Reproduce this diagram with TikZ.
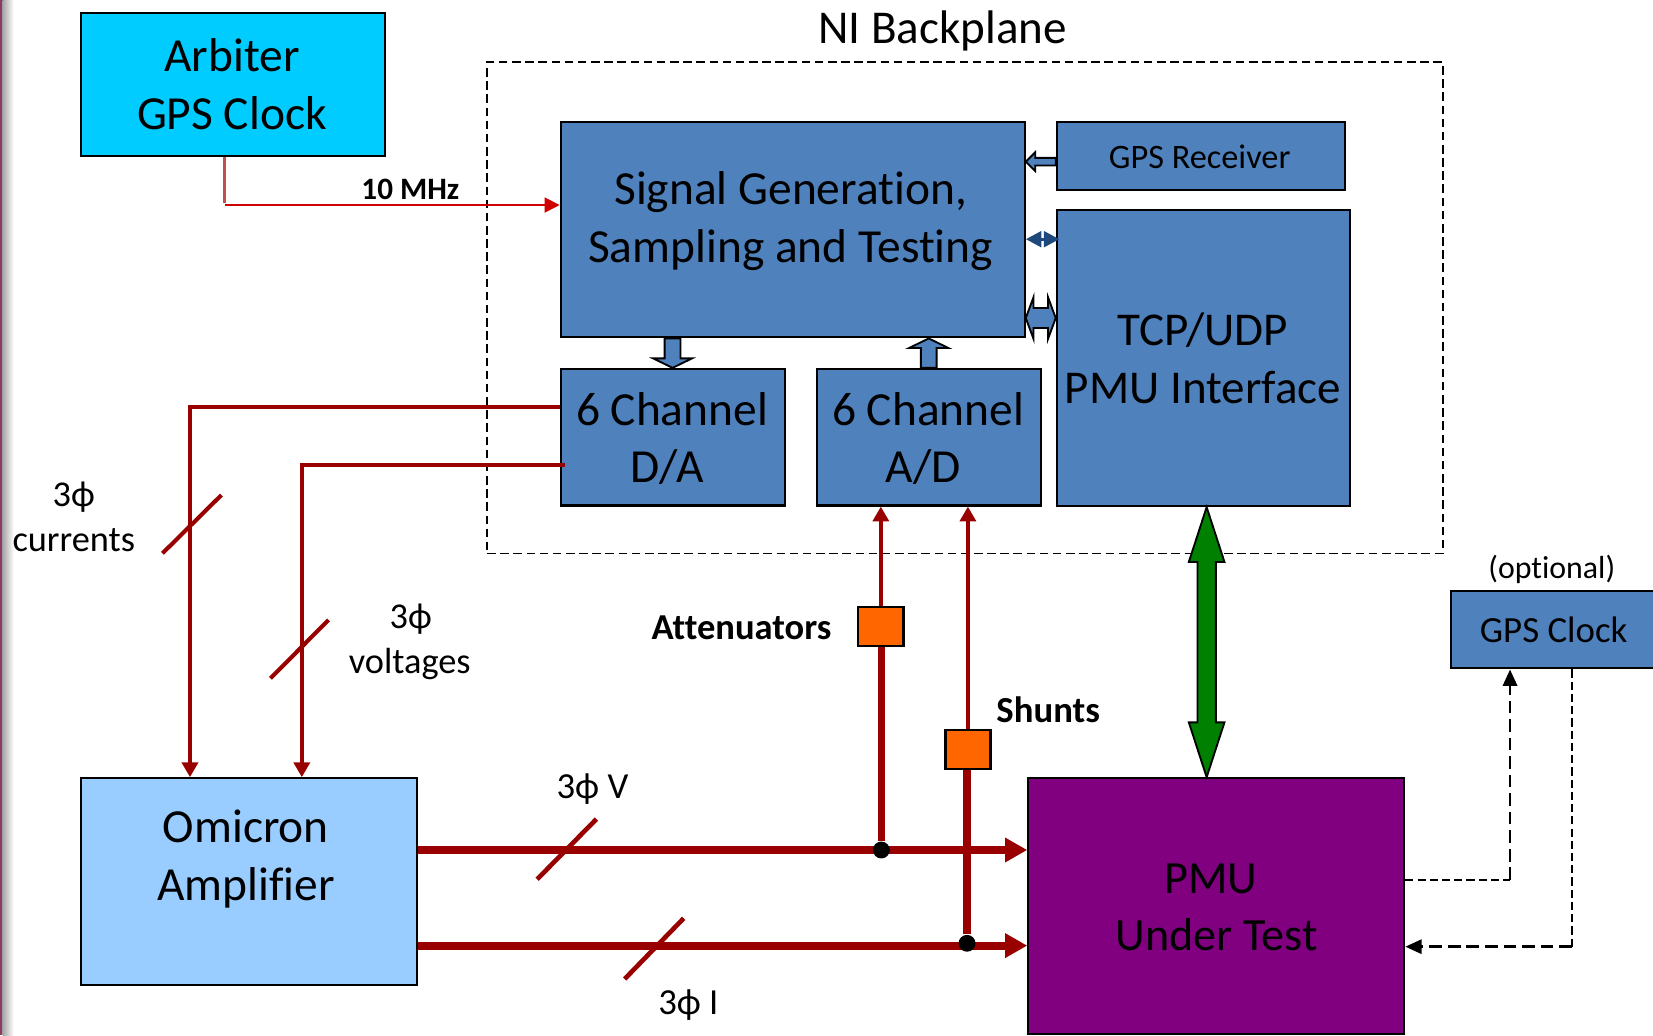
\documentclass[tikz,border=0pt]{standalone}
\usepackage{fontspec}
\setmainfont{Carlito}[Ligatures=NoCommon]
\usetikzlibrary{arrows.meta,calc,fit}

\definecolor{arbcyan}{HTML}{00CCFF}
\definecolor{niblue}{HTML}{4F81BD}
\definecolor{omiblue}{HTML}{99CCFF}
\definecolor{pmupurple}{HTML}{800080}
\definecolor{sigred}{HTML}{990000}
\definecolor{clkred}{HTML}{D00000}
\definecolor{clkstub}{HTML}{C0504D}
\definecolor{boxorange}{HTML}{FF6600}
\definecolor{linkgreen}{HTML}{008000}
\definecolor{linkblue}{HTML}{1F497D}
\definecolor{slideedge}{HTML}{8B3A62}

% single block arrow: #1 style, #2 tail, #3 tip, #4 half shaft, #5 half head, #6 head length
\newcommand{\blockarrow}[6]{%
  \coordinate (bah) at ($(#3)!#6!(#2)$);
  \draw[#1] ($(#2)!#4!90:(#3)$) -- ($(bah)!#4!90:(#3)$) -- ($(bah)!#5!90:(#3)$) -- (#3)
    -- ($(bah)!#5!-90:(#3)$) -- ($(bah)!#4!-90:(#3)$) -- ($(#2)!#4!-90:(#3)$) -- cycle;}
% double block arrow, same arguments
\newcommand{\blockdarrow}[6]{%
  \coordinate (bdA) at ($(#2)!#6!(#3)$);
  \coordinate (bdB) at ($(#3)!#6!(#2)$);
  \draw[#1] (#2) -- ($(bdA)!#5!90:(#3)$) -- ($(bdA)!#4!90:(#3)$) -- ($(bdB)!#4!-90:(#2)$)
    -- ($(bdB)!#5!-90:(#2)$) -- (#3) -- ($(bdB)!#5!90:(#2)$) -- ($(bdB)!#4!90:(#2)$)
    -- ($(bdA)!#4!-90:(#3)$) -- ($(bdA)!#5!-90:(#3)$) -- cycle;}

\tikzset{
  box/.style={draw=black, line width=0.6pt, inner sep=0pt},
  lab/.style={anchor=base, inner sep=0pt, font=\fontsize{#1}{#1}\selectfont},
  sigline/.style={draw=sigred, line width=1.1pt},
  busline/.style={draw=sigred, line width=2.15pt},
  slash/.style={draw=sigred, line width=1.1pt},
  thinhead/.style={-{Triangle[length=4pt,width=4.3pt]}},
  bushead/.style={-{Triangle[length=6pt,width=6.3pt]}},
  dot/.style={circle, fill=black, inner sep=0pt, minimum size=0.16cm},
  dthin/.style={draw=black, line width=0.45pt, dash pattern=on 2.2pt off 1.1pt},
  dthick/.style={draw=black, line width=0.75pt, dash pattern=on 3.4pt off 1.6pt},
  blk/.style={fill=niblue, draw=black, line width=0.5pt},
}

\begin{document}
\begin{tikzpicture}[x=0.01cm, y=-0.01cm]
\clip (0,0) rectangle (1568,982);
\fill[white] (0,0) rectangle (1568,982);

% slide edge
\fill[slideedge] (0,0) rectangle (2.5,982);
\shade[left color=black!35, right color=white] (2.5,0) rectangle (13,982);

% backplane outline
\node[draw=black, line width=0.5pt, dash pattern=on 2.3pt off 1.25pt, inner sep=0pt,
      fit={(462,59) (1368.5,525)}] (ni) {};
\node[lab=12.7] (niT) at (894,41) {NI Backplane};

% boxes
\node[box, fill=arbcyan, fit={(77,12) (365,148)}] (arb) {};
\node[box, fill=niblue, fit={(532,116) (972,320)}] (sg) {};
\node[box, fill=niblue, fit={(1002.5,115.5) (1275.5,180)}] (gpsr) {};
\node[box, fill=niblue, fit={(1002.5,199) (1280.5,480)}] (tcp) {};
\node[box, fill=niblue, fit={(532,350) (744.5,479.5)}] (da) {};
\node[box, fill=niblue, fit={(775,350) (987.5,479.5)}] (ad) {};
\node[box, fill=omiblue, fit={(77,738.3) (395.2,934.4)}] (omi) {};
\node[box, fill=pmupurple, fit={(975.5,738.3) (1332,981)}] (pmu) {};
\node[box, fill=niblue, fit={(1376.4,560.3) (1600,634)}] (gpsc) {};

% box texts
\node[lab=12.8] (arbT1) at (220,68) {Arbiter};
\node[lab=12.8] (arbT2) at (220,122.6) {GPS Clock};
\node[lab=12.8] (sgT1) at (750,194) {Signal Generation,};
\node[lab=12.8] (sgT2) at (750,248.6) {Sampling and Testing};
\node[lab=9.25] (gpsrT) at (1138,159.6) {GPS Receiver};
\node[lab=12.7] (tcpT1) at (1141,327.6) {TCP/UDP};
\node[lab=12.7] (tcpT2) at (1141,383) {PMU Interface};
\node[lab=12.8] (daT1) at (637.5,404) {6 Channel};
\node[lab=12.8] (daT2) at (632.6,458) {D/A};
\node[lab=12.8] (adT1) at (880.5,404) {6 Channel};
\node[lab=12.8] (adT2) at (875.6,458) {A/D};
\node[lab=12.8] (omiT1) at (233.2,799.4) {Omicron};
\node[lab=12.8] (omiT2) at (233.2,854) {Amplifier};
\node[lab=12.45] (pmuT1) at (1148.6,847.4) {PMU};
\node[lab=12.45] (pmuT2) at (1154.1,901.2) {Under Test};
\node[lab=8.6] (optT) at (1472,548.5) {(optional)};
\node[lab=9.95] (gpscT) at (1473.8,609) {GPS Clock};

% 10 MHz reference
\coordinate (clk) at (213,194.5);
\draw[draw=clkstub, line width=1pt] (arb.south -| clk) -- (213,193);
\draw[draw=clkred, line width=0.7pt, -{Triangle[length=4.1pt,width=4pt]}] (clk) -- (clk -| sg.west);
\node[lab=8.4] (mhz) at (389.3,189) {\bfseries 10 MHz};

% internal block arrows
\coordinate (ax1) at (638,0);
\coordinate (ax2) at (881,0);
\coordinate (daTop) at (da.north -| ax1);
\coordinate (sgBotL) at (sg.south -| ax1);
\coordinate (adTop) at (ad.north -| ax2);
\coordinate (sgBotR) at (sg.south -| ax2);
\blockarrow{blk}{sgBotL}{daTop}{0.075cm}{0.185cm}{0.09cm}
\blockarrow{blk}{adTop}{sgBotR}{0.075cm}{0.185cm}{0.09cm}

\coordinate (ry) at (0,153.4);
\coordinate (gpsrW) at (gpsr.west |- ry);
\coordinate (sgE1) at (sg.east |- ry);
\blockarrow{blk}{gpsrW}{sgE1}{0.0365cm}{0.09cm}{0.09cm}

\coordinate (sy) at (0,226.9);
\draw[draw=linkblue, line width=0.9pt,
      {Triangle[length=4.2pt,width=4.2pt]}-{Triangle[length=4.2pt,width=4.2pt]}]
  (sg.east |- sy) -- ([xshift=0.035cm]tcp.west |- sy);

\coordinate (by) at (0,301.7);
\coordinate (sgE2) at (sg.east |- by);
\coordinate (tcpW) at (tcp.west |- by);
\blockdarrow{blk}{sgE2}{tcpW}{0.095cm}{0.1975cm}{0.073cm}

% D/A outputs to the amplifier
\coordinate (iy) at (180.2,386.4);
\coordinate (vy) at (286.3,441);
\draw[sigline, thinhead] (iy -| da.west) -- (iy) -- (iy |- omi.north);
\draw[sigline, thinhead] ([xshift=0.05cm]vy -| da.west) -- (vy) -- (vy |- omi.north);
\draw[slash] (154.1,524.9) -- (210,469.6);
\draw[slash] (256.5,643.4) -- (311.7,588.1);
\node[lab=9.8] (curT1) at (70,480.6) {3ϕ};
\node[lab=9.8] (curT2) at (70,523.3) {currents};
\node[lab=9.8] (volT1) at (389.6,596) {3ϕ};
\node[lab=9.8] (volT2) at (388.7,638.7) {voltages};

% amplifier outputs to the PMU
\coordinate (vbus) at (0,806.3);
\coordinate (ibus) at (0,897);
\draw[busline, bushead] (omi.east |- vbus) -- (pmu.west |- vbus);
\draw[busline, bushead] (omi.east |- ibus) -- (pmu.west |- ibus);
\draw[slash, line width=1.25pt] (509.5,834.1) -- (565.8,776.9);
\draw[slash, line width=1.25pt] (592.5,928.7) -- (648.5,871.1);
\node[lab=9.9] (busV) at (562,757.3) {3ϕ V};
\node[lab=9.9] (busI) at (653,962.8) {3ϕ I};

% sampling taps
\node[dot] (jV) at (836,806.3) {};
\node[dot] (jI) at (917.3,894.8) {};
\node[box, fill=boxorange, fit={(814,576.1) (857.1,612.8)}] (att) {};
\node[box, fill=boxorange, fit={(896.8,692.5) (939.5,729.8)}] (shunt) {};
\draw[busline, line width=1.95pt] (jV) -- (jV |- att.south);
\draw[busline, line width=1.95pt] (jI) -- (jI |- shunt.south);
\draw[sigline, thinhead] (att.north) -- (att.north |- ad.south);
\draw[sigline, thinhead] (shunt.north) -- (shunt.north |- ad.south);
\node[lab=9.85] (attT) at (703.3,607) {\bfseries Attenuators};
\node[lab=9.9] (shuntT) at (994.3,685.5) {\bfseries Shunts};

% network link
\coordinate (gx) at (1144.6,0);
\coordinate (gTop) at (tcp.south -| gx);
\coordinate (gBot) at (pmu.north -| gx);
\blockdarrow{fill=linkgreen, draw=black, line width=0.5pt}{gTop}{gBot}{0.087cm}{0.169cm}{0.52cm}

% optional clock links
\coordinate (ox1) at (1432.4,834.8);
\coordinate (ox2) at (1490.9,898);
\draw[dthin] (pmu.east |- ox1) -- (ox1);
\draw[dthick, -{Triangle[length=4.4pt,width=3.8pt]}] (ox1) -- (ox1 |- gpsc.south);
\draw[dthin] (ox2 |- gpsc.south) -- (ox2);
\draw[dthick, -{Triangle[length=4.4pt,width=3.8pt]}] (ox2) -- (ox2 -| pmu.east);
\end{tikzpicture}
\end{document}
